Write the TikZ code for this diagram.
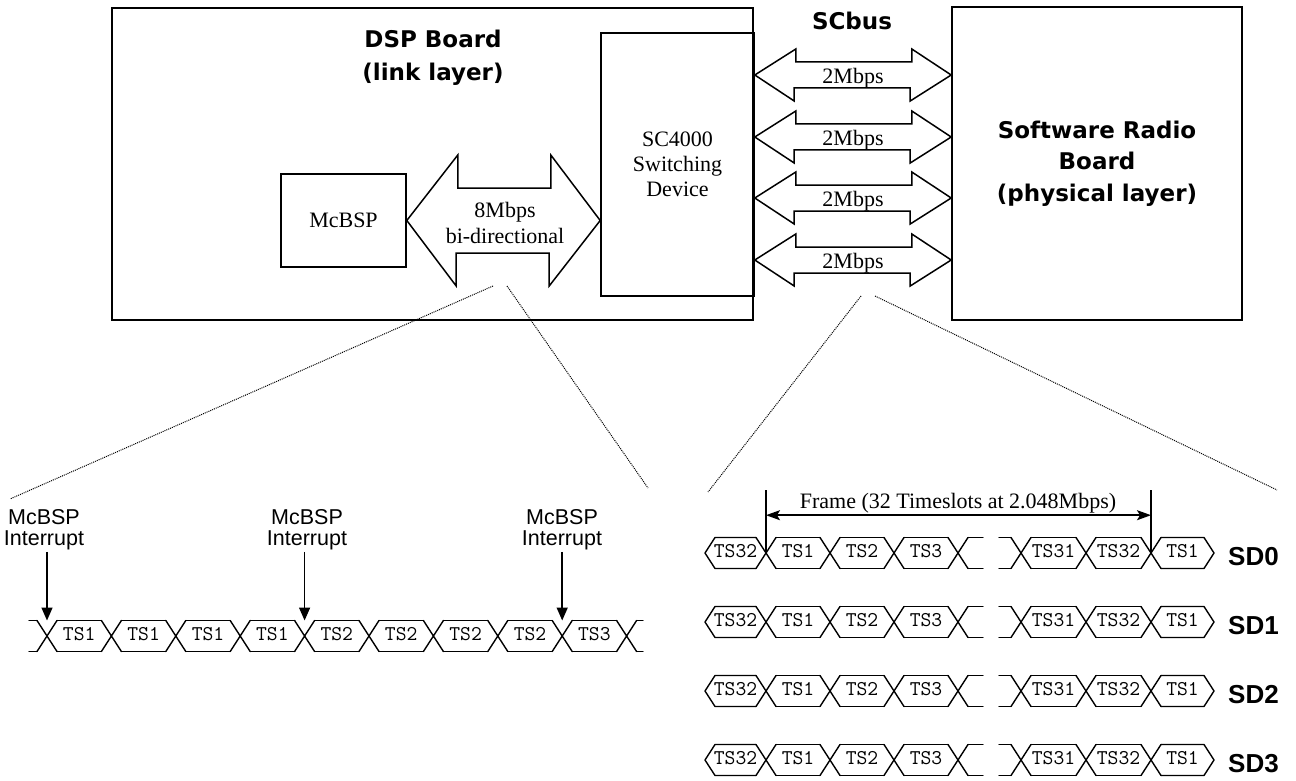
\documentclass[tikz,border=0pt]{standalone}
\usepackage{fontspec}
\setmainfont{Liberation Serif}
\setsansfont{Liberation Sans}
\newfontfamily\boardfont{DejaVu Sans}
\usetikzlibrary{arrows.meta,positioning,calc}

\begin{document}
\begin{tikzpicture}[
        x=1pt, y=-1pt,
        board/.style={draw, line width=1.6pt, inner sep=0pt},
        title/.style={font=\fontsize{23}{33}\selectfont\boardfont\bfseries, align=center},
        serif/.style={font=\fontsize{22}{25}\selectfont, align=center},
        busarrow/.style={draw, line width=1.5pt, line join=miter},
        zoomline/.style={line width=1pt, dash pattern=on 1pt off 1pt},
        slot/.style={line width=1.4pt, line cap=round, line join=round},
        tslabel/.style={font=\fontsize{21}{21}\selectfont\ttfamily, inner sep=0pt},
        sdlabel/.style={font=\fontsize{26}{26}\selectfont\sffamily\bfseries, inner sep=0pt},
        irq/.style={font=\fontsize{21.5}{21}\selectfont\sffamily, align=center, inner sep=2pt},
        irqarrow/.style={-{Triangle[length=13pt,width=11pt]}, line width=1.5pt},
        framearrow/.style={{Stealth[length=14pt,width=10pt,inset=3pt]}-{Stealth[length=14pt,width=10pt,inset=3pt]}, line width=1.5pt}
    ]
        \useasboundingbox (0,0) rectangle (1296,781);

        % === Boards ===
        \node[board, minimum width=641pt, minimum height=312pt] (dsp) at (432.5,164) {};
        \node[title] (dsptitle) at (433,57.6) {DSP Board\\(link layer)};
        \node[board, serif, minimum width=125pt, minimum height=93pt] (mcbsp) at (343.5,220.5) {McBSP};
        \node[board, serif, minimum width=153pt, minimum height=263pt] (sc) at (677.5,164.5) {SC4000\\Switching\\Device};
        \node[board, title, font=\fontsize{23}{31.5}\selectfont\boardfont\bfseries, minimum width=290pt, minimum height=313pt] (srb) at (1097,163.5) {Software Radio\\Board\\(physical layer)};
        \node[title] (scbus) at (852,21) {SCbus};

        % === Local bus ===
        \draw[busarrow] (mcbsp.east) -- ++(51,-65.5) -- ++(0,33) -- ++(93,0) -- ++(0,-33)
            -- (sc.west |- mcbsp.east) -- ++(-51,65.5) -- ++(0,-33) -- ++(-93,0) -- ++(0,33) -- cycle;
        \node[serif, font=\fontsize{22}{26}\selectfont] (mbps8) at (505,223) {8Mbps\\bi-directional};

        % === SCbus streams ===
        \foreach \y [count=\i] in {75,137,198,260} {
            \draw[busarrow] (sc.east |- 0,\y) -- ++(41,-26) -- ++(0,13) -- ++(116,0) -- ++(0,-13)
                -- (srb.west |- 0,\y) -- ++(-41,26) -- ++(0,-13) -- ++(-116,0) -- ++(0,13) -- cycle;
            \node[serif] (bus\i) at (853,\y+3) {2Mbps};
        }

        % === Zoom lines ===
        \coordinate (zl1) at (493,286); \coordinate (zl1e) at (10,499);
        \coordinate (zl2) at (507,286); \coordinate (zl2e) at (648,488);
        \coordinate (zr1) at (861,296); \coordinate (zr1e) at (708,492);
        \coordinate (zr2) at (875,296); \coordinate (zr2e) at (1277,490);
        \draw[zoomline] (zl1) -- (zl1e); \draw[zoomline] (zl2) -- (zl2e);
        \draw[zoomline] (zr1) -- (zr1e); \draw[zoomline] (zr2) -- (zr2e);

        % === McBSP timeslots ===
        \def\yL{636}
        \foreach \k in {0,...,9} {
            \pgfmathsetmacro\c{47+64.4*\k}
            \draw[slot] (\c-10,\yL-15.5) -- (\c+10,\yL+15.5) (\c-10,\yL+15.5) -- (\c+10,\yL-15.5);
        }
        \foreach \k in {0,...,8} {
            \pgfmathsetmacro\c{47+64.4*\k}
            \draw[slot] (\c+10,\yL-15.5) -- (\c+54.4,\yL-15.5) (\c+10,\yL+15.5) -- (\c+54.4,\yL+15.5);
        }
        \draw[slot] (29,\yL-15.5) -- (37,\yL-15.5) (29,\yL+15.5) -- (37,\yL+15.5);
        \draw[slot] (636.6,\yL-15.5) -- (643,\yL-15.5) (636.6,\yL+15.5) -- (643,\yL+15.5);
        \foreach \t [count=\j from 0] in {TS1,TS1,TS1,TS1,TS2,TS2,TS2,TS2,TS3}
            \node[tslabel] (mts\j) at (79.2+64.4*\j,\yL-2) {\t};

        \node[irq] (irq1) at (44,529.5) {McBSP\\Interrupt};
        \node[irq] (irq2) at (307,529.5) {McBSP\\Interrupt};
        \node[irq] (irq3) at (562,529.5) {McBSP\\Interrupt};
        \coordinate (tip1) at (47,620.5);
        \coordinate (tip2) at (304.6,620.5);
        \coordinate (tip3) at (562.2,620.5);
        \draw[irqarrow] (irq1.south -| tip1) -- (tip1);
        \draw[irqarrow] (irq2.south -| tip2) -- (tip2);
        \draw[irqarrow] (irq3.south -| tip3) -- (tip3);

        % === SCbus timeslots ===
        \foreach \y [count=\k from 0] in {553,622,691,760} {
            \foreach \c in {766,830,894,958,1021,1086,1151}
                \draw[slot] (\c-10,\y-15.5) -- (\c+10,\y+15.5) (\c-10,\y+15.5) -- (\c+10,\y-15.5);
            \foreach \a/\b in {766/830,830/894,894/958,1021/1086,1086/1151}
                \draw[slot] (\a+10,\y-15.5) -- (\b-10,\y-15.5) (\a+10,\y+15.5) -- (\b-10,\y+15.5);
            \draw[slot] (756,\y-15.5) -- (715,\y-15.5) -- (705,\y) -- (715,\y+15.5) -- (756,\y+15.5);
            \draw[slot] (968,\y-15.5) -- (983,\y-15.5) (968,\y+15.5) -- (983,\y+15.5);
            \draw[slot] (999,\y-15.5) -- (1011,\y-15.5) (999,\y+15.5) -- (1011,\y+15.5);
            \draw[slot] (1161,\y-15.5) -- (1204,\y-15.5) -- (1214,\y) -- (1204,\y+15.5) -- (1161,\y+15.5);
            \foreach \t/\x [count=\j] in {TS32/735.5,TS1/798,TS2/862,TS3/926,TS31/1053.5,TS32/1118.5,TS1/1182.5}
                \node[tslabel] (ts\k-\j) at (\x,\y-2) {\t};
            \node[sdlabel, anchor=west] (sd\k) at (1228,\y+3.5) {SD\k};
        }

        % === Frame ===
        \coordinate (fl) at (766,553); \coordinate (fltop) at (766,490);
        \coordinate (fr) at (1151,553); \coordinate (frtop) at (1151,490);
        \draw[line width=1.5pt] (fl) -- (fltop);
        \draw[line width=1.5pt] (fr) -- (frtop);
        \draw[framearrow] ($(fl)!0.6!(fltop)$) -- ($(fr)!0.6!(frtop)$);
        \node[serif] (frame) at (958,503.5) {Frame (32 Timeslots at 2.048Mbps)};
    \end{tikzpicture}
\end{document}
